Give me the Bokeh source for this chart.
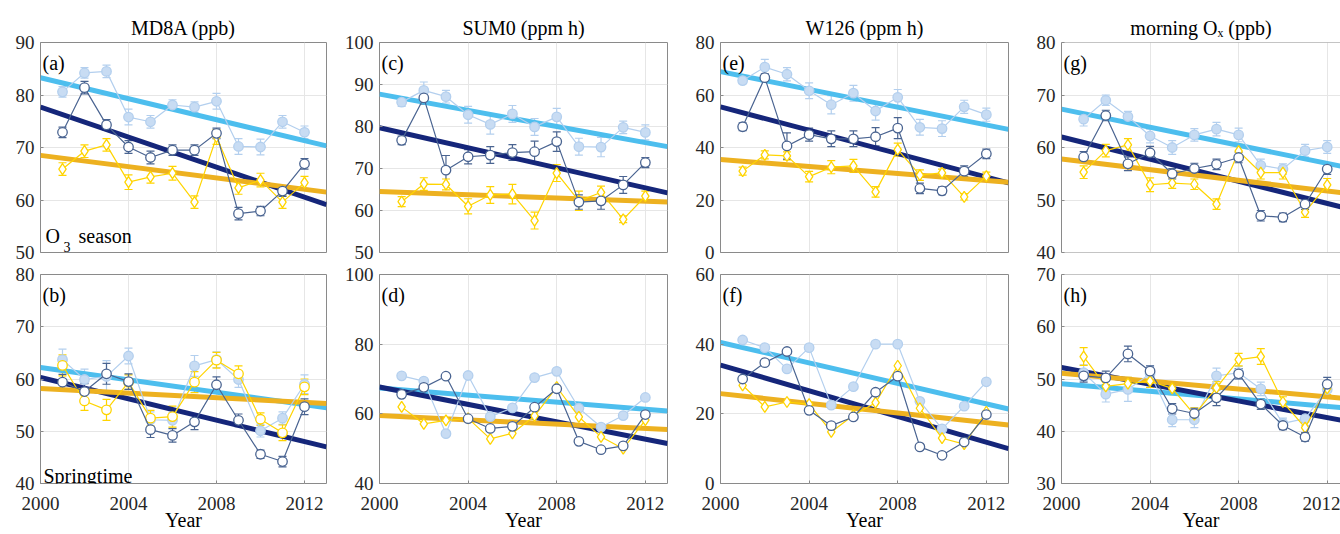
from bokeh.plotting import figure
from bokeh.layouts import gridplot
from bokeh.models import ColumnDataSource, Whisker, TeeHead, Label, FixedTicker, Range1d, Span
from bokeh.embed import file_html
from bokeh.resources import INLINE

years = [2001, 2002, 2003, 2004, 2005, 2006, 2007, 2008, 2009, 2010, 2011, 2012]
trend_years = [2000, 2013]
x_ticks = [2000, 2004, 2008, 2012]
titles = ["MD8A (ppb)", "SUM0 (ppm h)", "W126 (ppm h)", "morning O\u2093 (ppb)"]
panel_letters = ["(a)", "(b)", "(c)", "(d)", "(e)", "(f)", "(g)", "(h)"]
row_label_top = ["O", "3", "season"]
row_label_bottom = "Springtime"
x_label = "Year"

# (a) MD8A, O3 season
a_light = [80.6, 84.2, 84.5, 75.8, 74.9, 78.1, 77.7, 78.8, 70.2, 70.1, 74.9, 72.9]
a_light_err = [1.0, 1.0, 1.2, 1.5, 1.2, 1.0, 1.0, 1.5, 1.5, 1.5, 1.2, 1.2]
a_dark = [72.9, 81.4, 74.3, 70.1, 68.1, 69.5, 69.5, 72.7, 57.4, 57.9, 61.7, 66.9]
a_dark_err = [1.0, 1.2, 1.0, 1.2, 1.2, 1.0, 1.0, 1.0, 1.2, 0.9, 1.0, 1.0]
a_yellow = [65.9, 69.3, 70.5, 63.4, 64.4, 65.1, 59.6, 72.0, 62.3, 63.8, 59.6, 63.3]
a_yellow_err = [1.2, 1.2, 1.2, 1.4, 1.2, 1.3, 1.2, 1.4, 1.2, 1.3, 1.2, 1.2]
a_trend_light = [83.3, 70.3]
a_trend_dark = [77.7, 59.1]
a_trend_yellow = [68.5, 61.5]

# (b) MD8A, springtime
b_light = [63.7, 59.9, 60.5, 64.4, 52.2, 52.1, 62.5, 63.7, 59.9, 50.1, 52.5, 59.0]
b_light_err = [2.0, 2.0, 3.0, 1.5, 1.5, 1.5, 2.0, 1.5, 1.5, 1.2, 1.2, 1.8]
b_dark = [59.4, 57.6, 61.0, 59.5, 50.3, 49.2, 51.8, 58.9, 52.1, 45.6, 44.2, 54.7]
b_dark_err = [1.5, 1.5, 2.0, 1.5, 1.5, 1.3, 1.5, 1.5, 1.2, 0.8, 1.0, 1.5]
b_yellow = [62.6, 55.8, 54.1, 59.4, 52.5, 52.8, 59.4, 63.6, 61.0, 52.3, 49.7, 58.5]
b_yellow_err = [2.0, 1.8, 2.0, 1.4, 1.5, 2.0, 2.0, 1.5, 1.5, 1.2, 1.5, 1.5]
b_trend_light = [62.2, 54.5]
b_trend_dark = [60.3, 47.0]
b_trend_yellow = [58.2, 55.3]

# (c) SUM0, O3 season
c_light = [85.8, 88.6, 87.1, 82.8, 80.5, 83.0, 79.9, 82.3, 75.2, 75.1, 79.8, 78.6]
c_light_err = [1.0, 2.0, 1.5, 2.0, 2.3, 2.0, 2.0, 2.0, 2.0, 2.3, 1.5, 1.8]
c_dark = [76.7, 86.8, 69.6, 72.8, 73.2, 73.8, 74.0, 76.4, 62.0, 62.3, 66.1, 71.4]
c_dark_err = [1.0, 1.5, 3.5, 1.7, 2.0, 1.9, 2.5, 2.3, 1.7, 2.0, 2.0, 1.2]
c_yellow = [62.1, 66.3, 66.2, 61.0, 63.7, 63.9, 57.6, 68.9, 62.3, 64.3, 57.9, 63.4]
c_yellow_err = [1.2, 1.5, 1.3, 1.8, 2.0, 2.3, 2.0, 2.0, 2.3, 1.5, 0.8, 1.2]
c_trend_light = [87.7, 75.2]
c_trend_dark = [79.7, 64.2]
c_trend_yellow = [64.5, 62.0]

# (d) SUM0, springtime
d_light = [70.9, 69.4, 54.3, 71.0, 59.2, 61.7, 70.4, 72.2, 61.6, 56.2, 59.5, 64.7]
d_dark = [65.6, 67.6, 70.8, 58.6, 55.8, 56.4, 61.9, 67.2, 52.1, 49.7, 50.8, 59.8]
d_yellow = [62.0, 57.1, 58.1, 58.7, 52.8, 54.4, 59.4, 67.7, 59.1, 53.4, 50.0, 58.2]
d_trend_light = [67.4, 60.8]
d_trend_dark = [67.7, 51.5]
d_trend_yellow = [59.5, 55.5]

# (e) W126, O3 season
e_light = [65.5, 70.6, 67.9, 61.6, 56.3, 60.7, 53.9, 59.1, 47.7, 47.2, 55.5, 52.5]
e_light_err = [1.2, 3.0, 2.5, 3.0, 3.5, 3.0, 3.5, 3.0, 3.0, 3.0, 2.5, 2.5]
e_dark = [47.9, 66.6, 40.6, 44.9, 43.3, 43.3, 44.1, 47.4, 24.4, 23.5, 31.0, 37.6]
e_dark_err = [1.5, 1.5, 5.0, 2.5, 3.0, 3.0, 3.5, 4.0, 2.0, 1.5, 2.0, 1.8]
e_yellow = [31.0, 37.2, 36.8, 28.9, 32.5, 33.0, 23.1, 39.2, 29.5, 30.3, 21.2, 29.1]
e_yellow_err = [1.5, 1.5, 1.5, 2.0, 2.5, 2.5, 2.0, 2.5, 2.0, 1.5, 1.2, 1.5]
e_trend_light = [68.9, 46.9]
e_trend_dark = [55.5, 26.5]
e_trend_yellow = [35.4, 26.8]

# (f) W126, springtime
f_light = [41.2, 39.0, 32.9, 39.0, 22.5, 27.8, 40.0, 40.0, 23.6, 15.7, 22.2, 29.2]
f_dark = [30.0, 34.7, 37.9, 21.0, 16.6, 19.1, 26.2, 30.8, 10.5, 8.1, 11.9, 19.8]
f_yellow = [28.2, 22.0, 23.4, 22.8, 14.8, 19.6, 23.2, 33.8, 21.6, 13.0, 11.3, 20.6]
f_trend_light = [40.5, 21.4]
f_trend_dark = [34.0, 10.0]
f_trend_yellow = [25.8, 16.8]

# (g) morning Ox, O3 season
g_light = [65.4, 69.0, 65.9, 62.2, 60.0, 62.4, 63.5, 62.4, 56.6, 55.9, 59.4, 60.1]
g_light_err = [1.3, 1.0, 1.0, 1.3, 1.3, 1.2, 1.3, 1.3, 1.2, 1.0, 1.2, 1.2]
g_dark = [58.2, 66.1, 56.9, 59.0, 55.0, 56.0, 56.8, 58.1, 47.0, 46.7, 49.2, 55.9]
g_dark_err = [1.0, 1.0, 1.3, 1.2, 1.0, 1.0, 1.0, 1.0, 1.0, 0.8, 1.0, 1.0]
g_yellow = [55.3, 59.4, 60.5, 52.9, 53.2, 53.0, 49.2, 59.3, 55.2, 55.2, 47.7, 52.9]
g_yellow_err = [1.2, 1.2, 1.2, 1.3, 1.0, 1.0, 1.0, 1.3, 1.2, 1.2, 1.0, 1.2]
g_trend_light = [67.3, 56.1]
g_trend_dark = [62.0, 48.3]
g_trend_yellow = [57.8, 51.2]

# (h) morning Ox, springtime
h_light = [51.2, 47.1, 48.0, 51.0, 42.2, 42.2, 50.6, 51.2, 48.1, 41.5, 42.4, 48.0]
h_light_err = [1.5, 1.5, 2.3, 1.5, 1.3, 1.5, 1.5, 1.2, 1.3, 1.0, 1.3, 1.3]
h_dark = [50.6, 50.2, 54.8, 51.5, 44.3, 43.4, 46.4, 51.0, 45.2, 41.1, 38.9, 49.0]
h_dark_err = [1.2, 1.3, 1.5, 1.0, 1.0, 1.0, 1.5, 1.0, 1.0, 0.8, 0.8, 1.3]
h_yellow = [54.3, 48.6, 49.1, 49.6, 48.2, 43.2, 48.3, 53.7, 54.3, 45.6, 40.7, 48.2]
h_yellow_err = [1.7, 1.5, 1.2, 1.2, 1.2, 1.3, 1.2, 1.2, 1.5, 1.0, 1.0, 1.2]
h_trend_light = [49.1, 44.4]
h_trend_dark = [52.2, 41.8]
h_trend_yellow = [51.1, 46.2]

y_ranges = {"a": (50, 90, 10), "b": (40, 80, 10), "c": (50, 100, 10), "d": (40, 100, 20),
            "e": (0, 80, 20), "f": (0, 60, 20), "g": (40, 80, 10), "h": (30, 70, 10)}

FONT = "Liberation Serif"
TXT = "#262626"
C_LIGHT_LINE = "#b3cfee"
C_LIGHT_FILL = "#c8dcf3"
C_DARK = "#4a6491"
C_YELLOW = "#ffd400"
T_LIGHT = "#4dbeee"
T_DARK = "#15267a"
T_YELLOW = "#edb120"
FRAME = "#8a8a8a"

col_w = [340, 340, 340, 320]
col_border = [(40, 14), (39, 13), (40, 12), (41, 0)]
x_end = [2013, 2013, 2013, 2012.6]
row_h = [262, 272]
row_border = [(42, 10), (12, 51)]


def make_panel(key, col, row, light, dark, yellow, tl, td, ty,
               light_err=None, dark_err=None, yellow_err=None, yellow_marker="diamond"):
    lo, hi, step = y_ranges[key]
    bl, br = col_border[col]
    bt, bb = row_border[row]
    p = figure(width=col_w[col], height=row_h[row], x_range=Range1d(2000, x_end[col]),
               y_range=Range1d(lo, hi), output_backend="svg", toolbar_location=None,
               min_border_left=bl, min_border_right=br, min_border_top=bt, min_border_bottom=bb)
    p.background_fill_color = "white"
    p.border_fill_color = "white"
    last = col == 3
    p.outline_line_color = None if last else FRAME
    p.outline_line_width = 1
    p.xgrid.grid_line_color = "#e6e6e6"
    p.ygrid.grid_line_color = "#e6e6e6"
    p.xaxis.ticker = FixedTicker(ticks=x_ticks)
    p.yaxis.ticker = FixedTicker(ticks=list(range(lo, hi + 1, step)))
    for ax in (p.xaxis[0], p.yaxis[0]):
        ax.axis_line_color = FRAME if last else None
        ax.major_tick_in = 3
        ax.major_tick_out = 0
        ax.major_tick_line_color = FRAME
        ax.minor_tick_line_color = None
        ax.major_label_text_font = FONT
        ax.major_label_text_font_size = "19px"
        ax.major_label_text_color = TXT
    p.yaxis.major_label_standoff = 6
    if row == 0:
        p.xaxis.visible = False
        if last:
            p.add_layout(Span(location=lo, dimension="width", line_color=FRAME, line_width=1))
        p.title.text = titles[col]
        p.title.align = "center"
        p.title.text_font = FONT
        p.title.text_font_size = "20px"
        p.title.text_font_style = "normal"
        p.title.text_color = "black"
        p.title.standoff = 7
        if last:
            p.title.offset = -12
    else:
        p.xaxis.major_label_standoff = 13
        p.xaxis.axis_label = x_label
        p.xaxis.axis_label_text_font = FONT
        p.xaxis.axis_label_text_font_size = "20px"
        p.xaxis.axis_label_text_font_style = "normal"
        p.xaxis.axis_label_text_color = "black"
        p.xaxis.axis_label_standoff = -4
    if last:
        p.add_layout(Span(location=hi, dimension="width", line_color=FRAME, line_width=1))

    # trend lines
    p.line(trend_years, tl, line_color=T_LIGHT, line_width=5)
    p.line(trend_years, td, line_color=T_DARK, line_width=5)
    p.line(trend_years, ty, line_color=T_YELLOW, line_width=5)

    def series(vals, err, color, marker, size, fill, lcolor):
        p.line(years, vals, line_color=color, line_width=1.2)
        if err is not None:
            src = ColumnDataSource(dict(x=years,
                                        upper=[v + e for v, e in zip(vals, err)],
                                        lower=[v - e for v, e in zip(vals, err)]))
            p.add_layout(Whisker(source=src, base="x", upper="upper", lower="lower",
                                 line_color=color, line_width=1.2,
                                 upper_head=TeeHead(size=8, line_color=color, line_width=1.2),
                                 lower_head=TeeHead(size=8, line_color=color, line_width=1.2)))
        p.scatter(years, vals, marker=marker, size=size, fill_color=fill,
                  line_color=lcolor, line_width=1.3)

    series(light, light_err, C_LIGHT_LINE, "circle", 9.5, C_LIGHT_FILL, C_LIGHT_LINE)
    series(yellow, yellow_err, C_YELLOW, yellow_marker,
           11 if yellow_marker == "diamond" else 9.5, "white", C_YELLOW)
    series(dark, dark_err, C_DARK, "circle", 9.5, "white", C_DARK)

    idx = col * 2 + row
    fh = row_h[row] - bt - bb
    p.add_layout(Label(x=2, y=fh - 20, x_units="screen", y_units="screen",
                       text=panel_letters[idx], text_font=FONT, text_font_size="20px",
                       text_color="black", text_baseline="alphabetic"))
    if col == 0:
        if row == 0:
            p.add_layout(Label(x=5, y=17, x_units="screen", y_units="screen",
                               text=row_label_top[0], text_font=FONT, text_font_size="20px",
                               text_color="black", text_baseline="alphabetic"))
            p.add_layout(Label(x=23, y=6, x_units="screen", y_units="screen",
                               text=row_label_top[1], text_font=FONT, text_font_size="14px",
                               text_color="black", text_baseline="alphabetic"))
            p.add_layout(Label(x=38, y=17, x_units="screen", y_units="screen",
                               text=row_label_top[2], text_font=FONT, text_font_size="20px",
                               text_color="black", text_baseline="alphabetic"))
        else:
            p.add_layout(Label(x=3, y=8, x_units="screen", y_units="screen",
                               text=row_label_bottom, text_font=FONT, text_font_size="20px",
                               text_color="black", text_baseline="alphabetic"))
    return p


pa = make_panel("a", 0, 0, a_light, a_dark, a_yellow, a_trend_light, a_trend_dark, a_trend_yellow,
                a_light_err, a_dark_err, a_yellow_err)
pb = make_panel("b", 0, 1, b_light, b_dark, b_yellow, b_trend_light, b_trend_dark, b_trend_yellow,
                b_light_err, b_dark_err, b_yellow_err, yellow_marker="circle")
pc = make_panel("c", 1, 0, c_light, c_dark, c_yellow, c_trend_light, c_trend_dark, c_trend_yellow,
                c_light_err, c_dark_err, c_yellow_err)
pd_ = make_panel("d", 1, 1, d_light, d_dark, d_yellow, d_trend_light, d_trend_dark, d_trend_yellow)
pe = make_panel("e", 2, 0, e_light, e_dark, e_yellow, e_trend_light, e_trend_dark, e_trend_yellow,
                e_light_err, e_dark_err, e_yellow_err)
pf = make_panel("f", 2, 1, f_light, f_dark, f_yellow, f_trend_light, f_trend_dark, f_trend_yellow)
pg = make_panel("g", 3, 0, g_light, g_dark, g_yellow, g_trend_light, g_trend_dark, g_trend_yellow,
                g_light_err, g_dark_err, g_yellow_err)
ph = make_panel("h", 3, 1, h_light, h_dark, h_yellow, h_trend_light, h_trend_dark, h_trend_yellow,
                h_light_err, h_dark_err, h_yellow_err)

grid = gridplot([[pa, pc, pe, pg], [pb, pd_, pf, ph]], toolbar_location=None)

open("out.html", "w").write(file_html(grid, INLINE))
